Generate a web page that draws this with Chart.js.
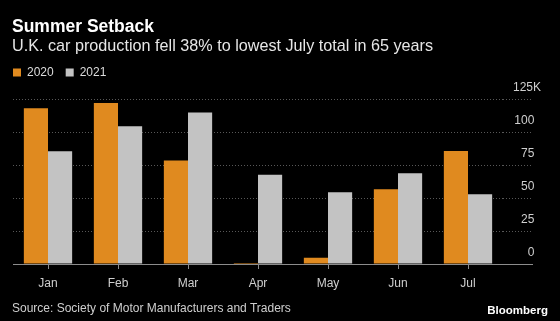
<!DOCTYPE html>
<html>
<head>
<meta charset="utf-8">
<script src="https://cdn.jsdelivr.net/npm/chart.js@4.4.1/dist/chart.umd.min.js"></script>
<style>
  body { margin: 0; background: #000; }
  #wrap { position: relative; width: 560px; height: 321px; overflow: hidden; font-family: "Liberation Sans", Arial, sans-serif; }
  #wrap canvas { position: absolute; left: 0; top: 0; }
  .txt { position: absolute; white-space: nowrap; }
  .title { left: 12px; top: 17.9px; font-size: 17.5px; line-height: 17.5px; font-weight: bold; color: #fff; }
  .subtitle { left: 12px; top: 37.2px; font-size: 16.2px; line-height: 16px; color: #e6e6e6; }
  .source { left: 12px; top: 301.8px; font-size: 12px; line-height: 12px; color: #cfcfcf; }
  .brand { right: 12px; top: 304.6px; font-size: 11.5px; line-height: 11.5px; font-weight: bold; color: #fff; }
</style>
</head>
<body>
<div id="wrap">
  <canvas id="chart" width="560" height="321"></canvas>
  <div class="txt title">Summer Setback</div>
  <div class="txt subtitle">U.K. car production fell 38% to lowest July total in 65 years</div>
  <div class="txt source">Source: Society of Motor Manufacturers and Traders</div>
  <div class="txt brand">Bloomberg</div>
</div>
<script>
// UK car production, thousands of units
const months = ['Jan', 'Feb', 'Mar', 'Apr', 'May', 'Jun', 'Jul'];
const prod2020 = [118.2, 122.2, 78.5, 0.2, 4.8, 56.8, 85.8];
const prod2021 = [85.6, 104.5, 114.9, 67.7, 54.5, 68.9, 53.0];
const yTicks = [0, 25, 50, 75, 100, 125];

const orange = '#e08a1f';
const grey = '#c3c3c3';
const gridColor = '#585858';
const baseColor = '#8c8c8c';

Chart.defaults.font.family = '"Liberation Sans", Arial, sans-serif';

const isZero = (c) => c.tick && c.tick.value === 0;

// extra room between legend and plot
const legendGap = {
    id: 'legendGap',
    beforeInit(chart) {
        const fit = chart.legend.fit;
        chart.legend.fit = function () {
            fit.bind(chart.legend)();
            this.height += 10.8;
        };
    }
};

new Chart(document.getElementById('chart'), {
    type: 'bar',
    data: {
        labels: months,
        datasets: [
            { label: '2020', data: prod2020, backgroundColor: orange, borderWidth: 0, minBarLength: 1 },
            { label: '2021', data: prod2021, backgroundColor: grey, borderWidth: 0 }
        ]
    },
    plugins: [legendGap],
    options: {
        responsive: false,
        animation: false,
        layout: { padding: { top: 54.5, left: 1, right: 27, bottom: 27 } },
        datasets: { bar: { barPercentage: 1, categoryPercentage: 0.69 } },
        plugins: {
            tooltip: { enabled: false },
            legend: {
                position: 'top',
                align: 'start',
                labels: { boxWidth: 8, boxHeight: 8, padding: 12, color: '#dcdcdc', font: { size: 12 } }
            }
        },
        scales: {
            x: {
                offset: true,
                border: { display: false },
                grid: { display: true, offset: false, drawOnChartArea: false, drawTicks: true, tickLength: 5, color: baseColor, tickColor: baseColor },
                ticks: { color: '#cfcfcf', font: { size: 12 }, padding: 7.5, maxRotation: 0 },
                afterFit: (s) => { s.paddingLeft = 13; s.height = 30; }
            },
            y: {
                position: 'right',
                min: 0,
                max: 125,
                border: { display: false, dash: (c) => isZero(c) ? [] : [1, 2] },
                grid: {
                    color: (c) => isZero(c) ? baseColor : gridColor,
                    tickColor: (c) => isZero(c) ? baseColor : gridColor,
                    tickBorderDash: (c) => isZero(c) ? [] : [1, 2],
                    tickLength: 30,
                    drawTicks: true
                },
                afterBuildTicks: (s) => { s.ticks = yTicks.map(v => ({ value: v })); },
                ticks: {
                    mirror: true,
                    padding: 38,
                    labelOffset: -11.5,
                    color: '#cfcfcf',
                    font: { size: 12 },
                    callback: (v) => v === 125 ? '125K' : v + '\u2007'
                },
                afterFit: (s) => { s.width = 30; }
            }
        }
    }
});
</script>
</body>
</html>
